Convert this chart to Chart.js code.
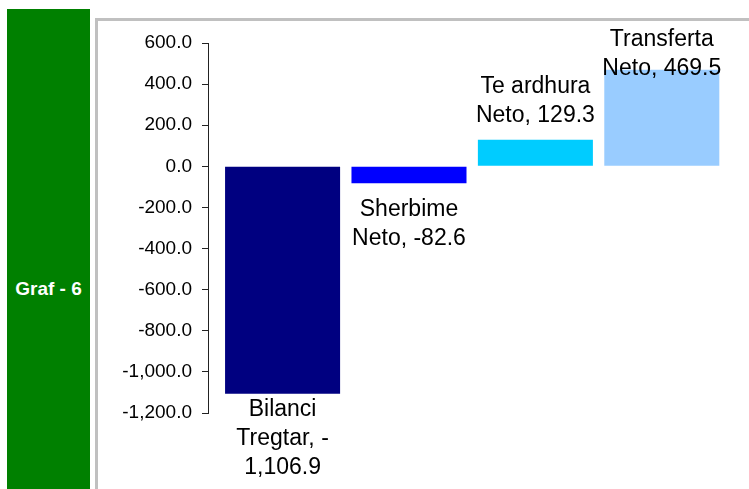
<!DOCTYPE html>
<html lang="en">

<head>
    <meta charset="UTF-8">
    <title>Graf - 6</title>
    <script src="https://cdn.jsdelivr.net/npm/chart.js"></script>
    <style>
        body { margin: 0; background: #fff; font-family: "Liberation Sans", Arial, sans-serif; }
        .side { position: absolute; left: 7px; top: 9px; width: 83px; height: 480px; background: #008000; }
        .side span { position: absolute; left: 0; width: 83px; top: 268px; text-align: center; color: #fff; font-weight: bold; font-size: 19px; line-height: 24px; }
        .frame { position: absolute; left: 95px; top: 18px; width: 700px; height: 500px; border-left: 3px solid #c0c0c0; border-top: 3px solid #c0c0c0; }
        canvas { position: absolute; left: 0; top: 0; }
    </style>
</head>

<body>
    <!--BARRA ANESORE-->
    <div class="side"><span>Graf - 6</span></div>
    <div class="frame"></div>
    <canvas id="grafik" width="749" height="489"></canvas>
</body>

</html>
<script>
    // te dhenat
    var kategorite = ["Bilanci Tregtar", "Sherbime Neto", "Te ardhura Neto", "Transferta Neto"];
    var vlerat = [-1106.9, -82.6, 129.3, 469.5];
    var ngjyrat = ["#000080", "#0000ff", "#00ccff", "#99ccff"];
    var yMin = -1200, yMax = 600, yHapi = 200;

    function formato(v) {
        return v.toLocaleString("en-US", { minimumFractionDigits: 1, maximumFractionDigits: 1 });
    }

    // ndarje e tekstit ne rreshta
    function ndaRreshta(ctx, tekst, gjeresia) {
        var pjeset = tekst.split(/(?<=\s)|(?<=-)(?=\d)/);
        var rreshtat = [];
        var rresht = "";
        pjeset.forEach(function (p) {
            if (rresht && ctx.measureText((rresht + p).trim()).width > gjeresia) {
                rreshtat.push(rresht.trim());
                rresht = p;
            } else {
                rresht += p;
            }
        });
        if (rresht) rreshtat.push(rresht.trim());
        return rreshtat;
    }

    var etiketat = {
        id: "etiketat",
        afterDatasetsDraw: function (chart) {
            var ctx = chart.ctx;
            var meta = chart.getDatasetMeta(0);
            var lartesia = 29;
            ctx.save();
            ctx.font = "23px 'Liberation Sans', Arial, sans-serif";
            ctx.fillStyle = "#000";
            ctx.textAlign = "center";
            ctx.textBaseline = "alphabetic";
            meta.data.forEach(function (bar, i) {
                var v = vlerat[i];
                var rreshtat = ndaRreshta(ctx, kategorite[i] + ", " + formato(v), 128);
                var n = rreshtat.length;
                var pare;
                if (v >= 0) {
                    pare = bar.y - 18 - (n - 1) * lartesia;
                } else {
                    pare = bar.y + 33;
                }
                if (pare < 46) pare = 46;
                if (pare + (n - 1) * lartesia > 474) pare = 474 - (n - 1) * lartesia;
                rreshtat.forEach(function (r, j) {
                    ctx.fillText(r, bar.x, pare + j * lartesia);
                });
            });
            ctx.restore();
        }
    };

    var config = {
        type: "bar",
        data: {
            datasets: [
                {
                    label: "Graf - 6",
                    data: vlerat.map(function (v, i) { return { x: i, y: v }; }),
                    backgroundColor: ngjyrat,
                    borderWidth: 0,
                    barPercentage: 0.91,
                    categoryPercentage: 1
                }
            ]
        },
        options: {
            responsive: false,
            animation: false,
            layout: { padding: { top: 43, bottom: 76, left: 0, right: 24 } },
            plugins: { legend: { display: false }, tooltip: { enabled: false } },
            scales: {
                x: {
                    type: "linear",
                    display: false,
                    offset: false,
                    min: -0.59,
                    max: 3.5,
                    ticks: { stepSize: 1, includeBounds: false }
                },
                y: {
                    min: yMin,
                    max: yMax,
                    afterFit: function (scale) { scale.width = 208; },
                    border: { display: true, color: "#222", width: 1 },
                    grid: { display: true, drawOnChartArea: false, drawTicks: true, tickLength: 6, color: "#222" },
                    ticks: {
                        stepSize: yHapi,
                        padding: 10,
                        color: "#000",
                        font: { family: "'Liberation Sans', Arial, sans-serif", size: 19 },
                        callback: function (v) { return formato(v); }
                    }
                }
            }
        },
        plugins: [etiketat]
    };

    var grafiku = new Chart(document.getElementById("grafik"), config);
</script>
